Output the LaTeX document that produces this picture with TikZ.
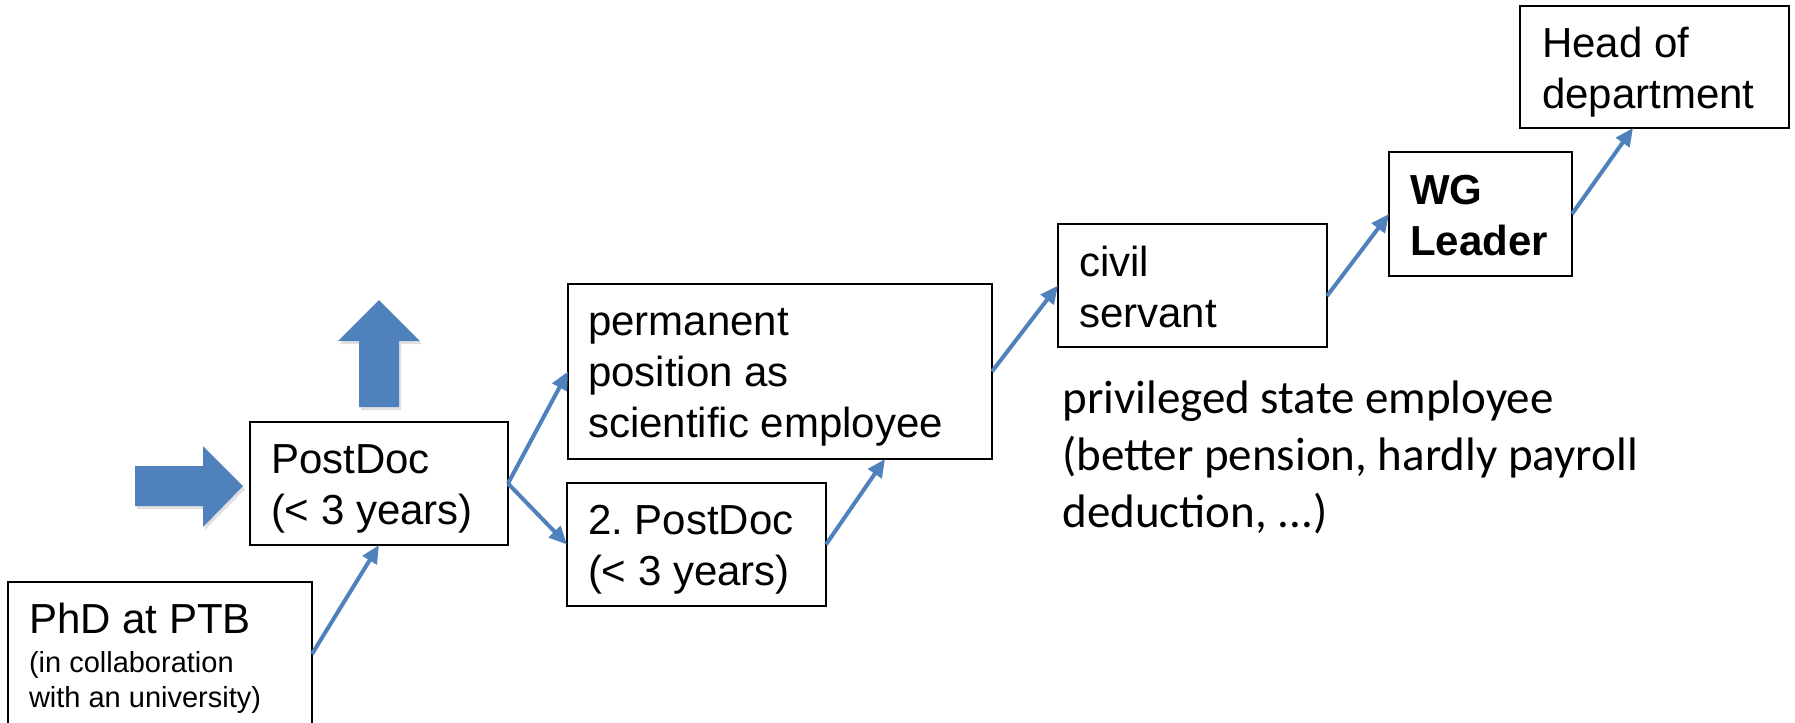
\documentclass[tikz,border=0pt]{standalone}
\usepackage{fontspec}
\setmainfont{Liberation Sans}
\newfontfamily\calib{Carlito}
\usetikzlibrary{arrows.meta}
\definecolor{ablue}{HTML}{4F81BD}
\newcommand{\boxtext}[2]{\makebox[#1][l]{\begin{tabular}[t]{@{}l@{}}#2\end{tabular}}}
\frenchspacing
\begin{document}
\begin{tikzpicture}[x=0.5pt,y=-0.5pt,
  box/.style={draw, line width=1.1pt, inner ysep=0pt, outer sep=0pt, anchor=north west,
              font=\fontsize{21}{25.5}\selectfont},
  conn/.style={draw=ablue, line width=2pt, -{Triangle[length=9pt,width=8pt]}},
  blockarrow/.style={fill=ablue},
  blockshadow/.style={fill=black, opacity=0.12}]
\useasboundingbox (0,0) rectangle (1795,723);
\fill[white] (0,0) rectangle (1795,723);

% boxes
\node[box, inner xsep=10.5pt, text height=25.5pt, text depth=46.5pt,
      font=\fontsize{14.5}{17.5}\selectfont] (phd) at (8,582)
  {\boxtext{131pt}{\fontsize{21}{25.5}\selectfont PhD at PTB\\[2pt] (in collaboration\\ with an university)}};
\node[box, inner xsep=10.5pt, text height=25.5pt, text depth=36pt] (postdoc) at (250,422)
  {\boxtext{108pt}{PostDoc\\(< 3 years)}};
\node[box, inner xsep=10pt, text height=25.5pt, text depth=62pt] (perm) at (568,284)
  {\boxtext{192pt}{permanent\\position as\\scientific employee}};
\node[box, inner xsep=10.5pt, text height=25.5pt, text depth=36pt] (pd2) at (567,483)
  {\boxtext{108.5pt}{2. PostDoc\\(< 3 years)}};
\node[box, inner xsep=10.5pt, text height=26pt, text depth=35.5pt] (civil) at (1058,224)
  {\boxtext{113.5pt}{civil\\servant}};
\node[box, inner xsep=10.5pt, text height=26pt, text depth=36pt] (wg) at (1389,152)
  {\boxtext{70.5pt}{\bfseries WG\\\bfseries Leader}};
\node[box, inner xsep=11pt, text height=25.5pt, text depth=35.5pt] (head) at (1520,6)
  {\boxtext{112.5pt}{Head of\\department}};

% free text
\node[anchor=base west, inner sep=0pt, font=\calib\fontsize{23.5}{28.5}\selectfont] (priv) at (1062,413)
  {\begin{tabular}[t]{@{}l@{}}privileged state employee\\(better pension, hardly payroll\\deduction, ...)\end{tabular}};

% block arrows (with faint shadow)
\begin{scope}[shift={(2,3)}]
  \fill[blockshadow] (359,407) -- (359,341) -- (338,341) -- (379,300) -- (420,341) -- (399,341) -- (399,407) -- cycle;
  \fill[blockshadow] (135,466) -- (203,466) -- (203,446) -- (243,486) -- (203,527) -- (203,506) -- (135,506) -- cycle;
\end{scope}
\fill[blockarrow] (359,407) -- (359,341) -- (338,341) -- (379,300) -- (420,341) -- (399,341) -- (399,407) -- cycle;
\fill[blockarrow] (135,466) -- (203,466) -- (203,446) -- (243,486) -- (203,527) -- (203,506) -- (135,506) -- cycle;

% connectors
\draw[conn] (phd.east) -- (postdoc.south);
\draw[conn] (postdoc.east) -- (perm.west);
\draw[conn] (postdoc.east) -- (pd2.west);
\draw[conn] (pd2.east) -- ([xshift=52.5pt]perm.south);
\draw[conn] (perm.east) -- (civil.west);
\draw[conn] ([yshift=-5.25pt]civil.east) -- (wg.west);
\draw[conn] (wg.east) -- ([xshift=-10.75pt]head.south);
\end{tikzpicture}
\end{document}
